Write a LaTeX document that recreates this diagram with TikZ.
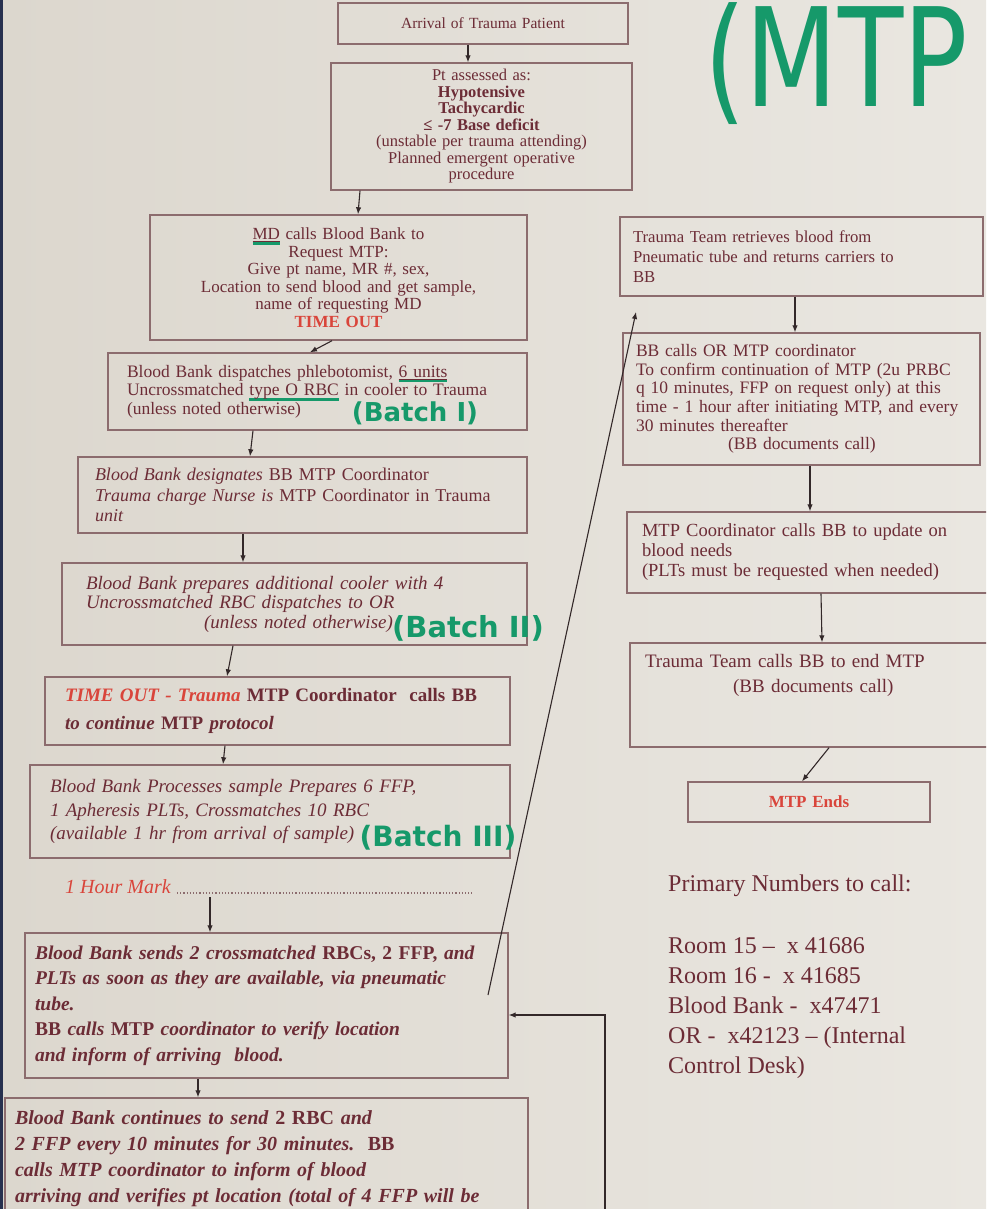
\documentclass[tikz,border=0pt]{standalone}
\usepackage{fontspec}
\setmainfont{Liberation Serif}
\newfontfamily\hand{DejaVu Sans}
\usepackage{graphicx}
\usetikzlibrary{arrows.meta}

\definecolor{paper}{HTML}{DCD7CE}
\definecolor{paperlight}{HTML}{EAE7E1}
\definecolor{edge}{HTML}{8C6C6E}
\definecolor{ink}{HTML}{6C2C36}
\definecolor{alert}{HTML}{D9453B}
\definecolor{marker}{HTML}{16996A}
\definecolor{wire}{HTML}{332829}
\definecolor{navyedge}{HTML}{27304F}

% green marker underline
\newcommand{\gul}[1]{\sbox0{#1}\rlap{\raisebox{-5pt}{\textcolor{marker}{\rule{\wd0}{2.4pt}}}}\usebox0}
\newcommand{\fs}[2]{\fontsize{#1}{#2}\selectfont}

\begin{document}
\begin{tikzpicture}[x=1pt,y=-1pt,
  box/.style={draw=edge,line width=1.4pt,text=ink,inner ysep=4pt,align=left},
  arr/.style={draw=wire,line width=1.1pt,-{Latex[length=7pt,width=5.5pt]}},
  batch/.style={text=marker,font=\hand\bfseries}]
\useasboundingbox (0,0) rectangle (986,1209);
\shade[left color=paper,right color=paperlight] (0,0) rectangle (986,1209);
\clip (0,0) rectangle (986,1209);
\fill[navyedge] (0,0) rectangle (3,1209);

% left column
\node[box,align=center,inner xsep=14pt,text width=262pt,minimum height=41pt,font=\fs{15.5}{18}] (arrival) at (483,23.5) {Arrival of Trauma Patient};
\node[box,align=center,inner xsep=14pt,text width=273pt,minimum height=127pt,font=\fs{16.5}{16.5}] (assess) at (481.5,126.5) {Pt assessed as:\\ \textbf{Hypotensive}\\ \textbf{Tachycardic}\\ \textbf{≤ -7 Base deficit}\\ (unstable per trauma attending)\\ Planned emergent operative\\ procedure};
\node[box,align=center,inner xsep=14pt,text width=349pt,minimum height=125pt,font=\fs{17}{17.5}] (request) at (338.5,277.5) {\gul{\underline{MD}} calls Blood Bank to\\ Request MTP:\\ Give pt name, MR \#, sex,\\ Location to send blood and get sample,\\ name of requesting MD\\ \textcolor{alert}{\textbf{TIME OUT}}};
\node[box,inner xsep=19pt,text width=381pt,minimum height=77pt,font=\fs{17.5}{18.5}] (dispatch) at (317.5,391.5) {Blood Bank dispatches phlebotomist, \gul{\underline{6 units}}\\ Uncrossmatched \gul{type O RBC} in cooler to Trauma\\ (unless noted otherwise)};
\node[box,inner xsep=17pt,text width=415pt,minimum height=76pt,font=\fs{18}{20.5}] (designate) at (302.5,495) {\textit{Blood Bank designates} BB MTP Coordinator\\ \textit{Trauma charge Nurse is} MTP Coordinator in Trauma\\ \textit{unit}};
\node[box,inner xsep=24pt,text width=417pt,minimum height=82pt,font=\fs{19}{19.5}\itshape] (cooler) at (294.5,604) {Blood Bank prepares additional cooler with 4\\ Uncrossmatched RBC dispatches to OR\\ \hspace*{118pt}(unless noted otherwise)};
\node[box,inner xsep=20pt,text width=425pt,minimum height=68pt,font=\fs{19}{28}\bfseries] (timeout) at (277.5,711) {\textcolor{alert}{\textit{TIME OUT - Trauma}} MTP Coordinator\ \ calls BB\\ \textit{to continue} MTP \textit{protocol}};
\node[box,inner xsep=20pt,text width=440pt,minimum height=93pt,font=\fs{19}{23.5}\itshape] (process) at (270,811.5) {Blood Bank Processes sample Prepares 6 FFP,\\ 1 Apheresis PLTs, Crossmatches 10 RBC\\ (available 1 hr from arrival of sample)};

\node[text=alert,anchor=west,inner sep=0pt,font=\fs{20}{20}\itshape] (hourmark) at (65,887) {1 Hour Mark};
\coordinate (dotend) at (472,893);
\draw[edge,dotted,line width=1.2pt] ([xshift=6pt,yshift=-6pt]hourmark.east) -- (dotend);
\coordinate (hourfoot) at (210,897);

\node[box,inner xsep=10pt,text width=463pt,minimum height=145pt,font=\fs{19.5}{25.5}\bfseries\itshape] (sendone) at (266.5,1005.5) {Blood Bank sends 2 crossmatched \textup{RBCs, 2 FFP,} and\\ PLTs as soon as they are available, via pneumatic\\ tube.\\ \textup{BB} calls \textup{MTP} coordinator to verify location\\ and inform of arriving\ \ blood.};
\node[box,inner xsep=10pt,text width=503pt,minimum height=122pt,font=\fs{20}{26}\bfseries\itshape] (sendmore) at (266.5,1159) {Blood Bank continues to send \textup{2 RBC} and\\ 2 FFP every 10 minutes for 30 minutes.\ \ \textup{BB}\\ calls MTP coordinator to inform of blood\\ arriving and verifies pt location (total of 4 FFP will be};

% right column
\node[box,inner xsep=13pt,text width=337pt,minimum height=79pt,font=\fs{16.7}{20}] (retrieve) at (801.5,256.5) {Trauma Team retrieves blood from\\ Pneumatic tube and returns carriers to\\ BB};
\node[box,inner xsep=13pt,text width=331pt,minimum height=132pt,font=\fs{17.5}{18.7}] (confirm) at (801.5,399) {BB calls OR MTP coordinator\\ To confirm continuation of MTP (2u PRBC\\ q 10 minutes, FFP on request only) at this\\ time - 1 hour after initiating MTP, and every\\ 30 minutes thereafter\\ \hspace*{92pt}(BB documents call)};
\node[box,inner xsep=15pt,text width=335pt,minimum height=81pt,font=\fs{18.5}{20}] (update) at (809.5,552.5) {MTP Coordinator calls BB to update on\\ blood needs\\ (PLTs must be requested when needed)};
\node[box,inner xsep=15pt,text width=332pt,minimum height=104pt,font=\fs{19}{25}] (endcall) at (811,695) {Trauma Team calls BB to end MTP\\ \hspace*{88pt}(BB documents call)\\[18pt]\mbox{}};
\node[box,align=center,text=alert,inner xsep=10pt,text width=222pt,minimum height=40pt,font=\fs{17}{17}\bfseries] (ends) at (809,802) {MTP Ends};

\node[text=ink,anchor=north west,inner sep=0pt,align=left,font=\fs{24}{30}] (numbers) at (668,875) {Primary Numbers to call:\\[32pt] Room 15 --\ \ x 41686\\ Room 16 -\ \ x 41685\\ Blood Bank -\ \ x47471\\ OR -\ \ x42123 -- (Internal\\ Control Desk)};

% marker notes
\node[text=marker,anchor=base west,inner sep=0pt,font=\hand\fs{137}{137}] (mtpnote) at (704,107) {\scalebox{0.78}[1]{(MTP}};
\node[batch,font=\hand\bfseries\fs{26}{26}] (batchone) at (415,413) {(Batch I)};
\node[batch,font=\hand\bfseries\fs{29}{29}] (batchtwo) at (468,628) {(Batch II)};
\node[batch,font=\hand\bfseries\fs{28}{28}] (batchthree) at (438,838) {(Batch III)};

% connectors
\draw[arr] ([xshift=-15pt]arrival.south) -- ([xshift=-13.5pt]assess.north);
\draw[arr] ([xshift=-121.5pt]assess.south) -- ([xshift=19.5pt]request.north);
\draw[arr] ([xshift=-6.5pt]request.south) -- ([xshift=-7.5pt]dispatch.north);
\draw[arr] ([xshift=-64.5pt]dispatch.south) -- ([xshift=-52.5pt]designate.north);
\draw[arr] ([xshift=-59.5pt]designate.south) -- ([xshift=-51.5pt]cooler.north);
\draw[arr] ([xshift=-61.5pt]cooler.south) -- ([xshift=-50.5pt]timeout.north);
\draw[arr] ([xshift=-52.5pt]timeout.south) -- ([xshift=-47pt]process.north);
\draw[arr] (hourfoot) -- ([xshift=-56.5pt]sendone.north);
\draw[arr] ([xshift=-68.5pt]sendone.south) -- ([xshift=-68.5pt]sendmore.north);
\coordinate (tubefoot) at (488,995);
\coordinate (tubehead) at (636,312);
\draw[arr] (tubefoot) -- (tubehead);
\coordinate (loopfoot) at (605,1215);
\draw[arr] (loopfoot) |- ([yshift=-9.5pt]sendone.east);

\draw[arr] ([xshift=-6.5pt]retrieve.south) -- ([xshift=-6.5pt]confirm.north);
\draw[arr] ([xshift=8.5pt]confirm.south) -- ([xshift=0.5pt]update.north);
\draw[arr] ([xshift=11.5pt]update.south) -- ([xshift=11pt]endcall.north);
\draw[arr] ([xshift=18pt]endcall.south) -- ([xshift=-7pt]ends.north);
\end{tikzpicture}
\end{document}
